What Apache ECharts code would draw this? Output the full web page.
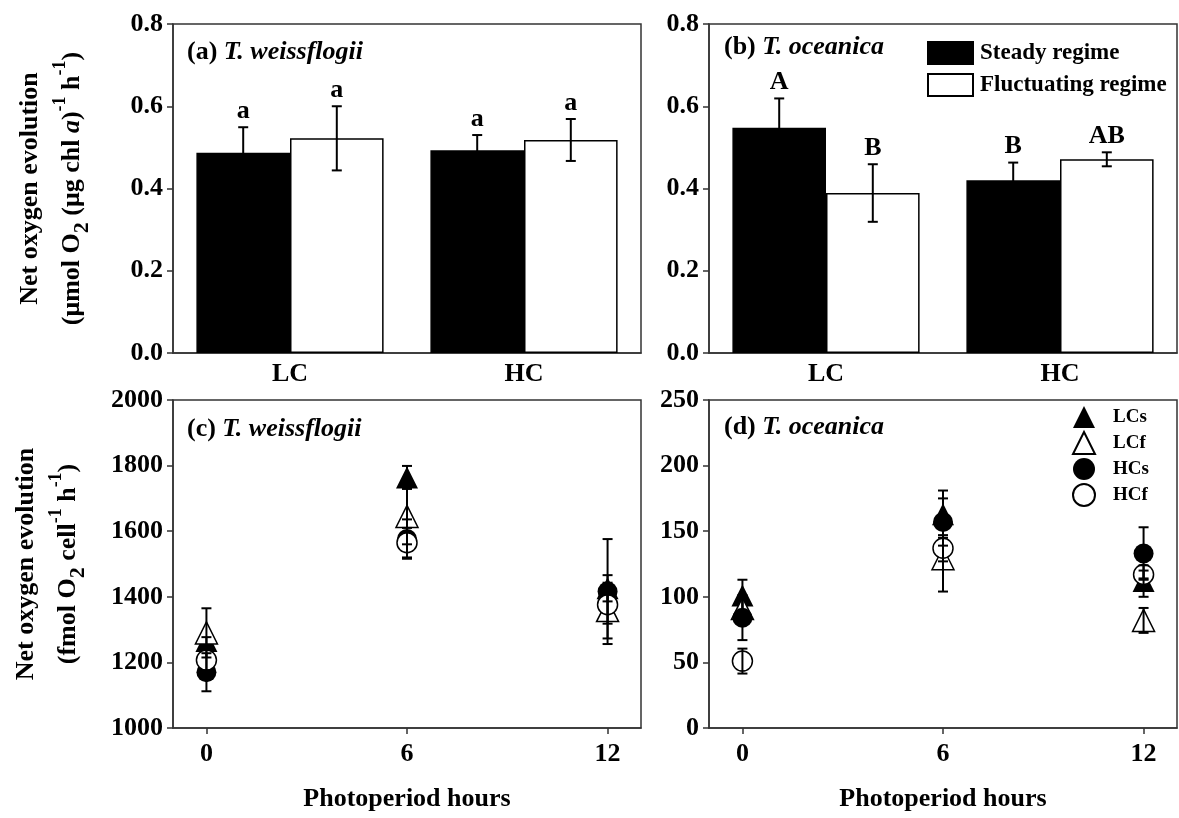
<!DOCTYPE html>
<html lang="en">
<head>
    <meta charset="UTF-8">
    <title>Net oxygen evolution</title>
    <script src="https://cdn.jsdelivr.net/npm/echarts@6/dist/echarts.min.js"></script>
    <style>
        html, body {margin: 0; padding: 0; background: #fff;}
        #main {width: 1179px; height: 818px;}
    </style>
</head>
<body>
    <div id="main"></div>
    <script>
    // bar panels (a) T. weissflogii, (b) T. oceanica
    var barCats = ['LC', 'HC'];
    var twSteady = [0.487, 0.493];
    var twSteadyErr = [0.062, 0.037];
    var twFluct = [0.522, 0.518];
    var twFluctErr = [0.078, 0.051];
    var twSteadyLetters = ['a', 'a'];
    var twFluctLetters = ['a', 'a'];

    var toSteady = [0.548, 0.420];
    var toSteadyErr = [0.071, 0.043];
    var toFluct = [0.389, 0.471];
    var toFluctErr = [0.070, 0.017];
    var toSteadyLetters = ['A', 'B'];
    var toFluctLetters = ['B', 'AB'];

    // point panels (c), (d)
    var hours = [0, 6, 12];
    var hourTicks = [0, 6, 12];
    var cLCs = [1265, 1764, 1426], cLCsErr = [12, 35, 40];
    var cLCf = [1290, 1645, 1358], cLCfErr = [75, 85, 85];
    var cHCs = [1170, 1576, 1416], cHCsErr = [58, 60, 160];
    var cHCf = [1207, 1565, 1376], cHCfErr = [45, 45, 58];

    var dLCs = [101, 163, 112], dLCsErr = [12, 18, 12];
    var dLCf = [91, 129, 82], dLCfErr = [10, 25, 9.5];
    var dHCs = [84, 157, 133], dHCsErr = [17, 18, 20];
    var dHCf = [51, 137, 117], dHCfErr = [9.5, 10, 3];

    var FONT = '"Liberation Serif", "Times New Roman", serif';
    var LINE = '#333';

    var myChart = echarts.init(document.getElementById('main'));

    function txt(size, italic) {
        return {fontFamily: FONT, fontWeight: 'bold', fontStyle: italic ? 'italic' : 'normal',
                fontSize: size, color: '#000'};
    }

    var nameRich = {
        t: {fontFamily: FONT, fontWeight: 'bold', fontSize: 26, lineHeight: 42, color: '#000'},
        it: {fontFamily: FONT, fontWeight: 'bold', fontStyle: 'italic', fontSize: 26, lineHeight: 42, color: '#000'},
        sub: {fontFamily: FONT, fontWeight: 'bold', fontSize: 22, lineHeight: 24, verticalAlign: 'bottom', color: '#000'},
        sup: {fontFamily: FONT, fontWeight: 'bold', fontSize: 18, lineHeight: 18, verticalAlign: 'top', color: '#000'}
    };

    var titleRich = {
        n: {fontFamily: FONT, fontWeight: 'bold', fontSize: 26, lineHeight: 30, color: '#000'},
        i: {fontFamily: FONT, fontWeight: 'bold', fontStyle: 'italic', fontSize: 26, lineHeight: 30, color: '#000'}
    };

    function barErr(gi, means, errs, letters, side) {
        return {
            type: 'custom',
            xAxisIndex: gi, yAxisIndex: gi,
            z: 5,
            data: means.map(function (m, i) { return [i, m, errs[i]]; }),
            renderItem: function (params, api) {
                var cat = api.value(0), m = api.value(1), e = api.value(2);
                var band = api.size([1, 0])[0];
                var x = api.coord([cat, m])[0] + side * band * 0.2;
                var yt = api.coord([cat, m + e])[1];
                var yb = api.coord([cat, m - e])[1];
                var st = {stroke: '#000', lineWidth: 2};
                return {type: 'group', children: [
                    {type: 'line', shape: {x1: x, y1: yt, x2: x, y2: yb}, style: st},
                    {type: 'line', shape: {x1: x - 5, y1: yt, x2: x + 5, y2: yt}, style: st},
                    {type: 'line', shape: {x1: x - 5, y1: yb, x2: x + 5, y2: yb}, style: st},
                    {type: 'text', x: x, y: yt - 3, style: {
                        text: letters[params.dataIndex], fill: '#000', fontFamily: FONT,
                        fontWeight: 'bold', fontSize: 26, align: 'center', verticalAlign: 'bottom'}}
                ]};
            }
        };
    }

    function ptErr(gi, means, errs) {
        return {
            type: 'custom',
            xAxisIndex: gi, yAxisIndex: gi,
            z: 5,
            data: hours.map(function (h, i) { return [h, means[i], errs[i]]; }),
            renderItem: function (params, api) {
                var h = api.value(0), m = api.value(1), e = api.value(2);
                var x = api.coord([h, m])[0];
                var yt = api.coord([h, m + e])[1];
                var yb = api.coord([h, m - e])[1];
                var st = {stroke: '#000', lineWidth: 2};
                return {type: 'group', children: [
                    {type: 'line', shape: {x1: x, y1: yt, x2: x, y2: yb}, style: st},
                    {type: 'line', shape: {x1: x - 5, y1: yt, x2: x + 5, y2: yt}, style: st},
                    {type: 'line', shape: {x1: x - 5, y1: yb, x2: x + 5, y2: yb}, style: st}
                ]};
            }
        };
    }

    function pts(gi, name, vals, symbol, filled) {
        return {
            type: 'scatter', name: name,
            xAxisIndex: gi, yAxisIndex: gi,
            symbol: symbol, symbolSize: symbol === 'triangle' ? 22 : 20,
            z: 3,
            itemStyle: filled ? {color: '#000', opacity: 1}
                              : {color: '#fff', borderColor: '#000', borderWidth: 1.5, opacity: 1},
            data: hours.map(function (h, i) { return [h, vals[i]]; })
        };
    }

    var steadyStyle = {color: '#000', borderColor: '#000', borderWidth: 1.5};
    var fluctStyle = {color: '#fff', borderColor: '#000', borderWidth: 1.5};

    function catAxis(gi) {
        return {
            type: 'category', gridIndex: gi, data: barCats,
            axisLine: {lineStyle: {color: LINE, width: 1.5}},
            axisTick: {show: false},
            axisLabel: Object.assign({margin: 8}, txt(26))
        };
    }
    function hourAxis(gi) {
        return {
            type: 'value', gridIndex: gi, min: -1, max: 13,
            name: 'Photoperiod hours', nameLocation: 'middle', nameGap: 58,
            nameTextStyle: txt(26),
            splitLine: {show: false},
            axisLine: {onZero: false, lineStyle: {color: LINE, width: 1.5}},
            axisTick: {customValues: hourTicks, length: 6, lineStyle: {color: LINE, width: 1.5}},
            axisLabel: Object.assign({customValues: hourTicks, margin: 13}, txt(26))
        };
    }
    function valAxis(gi, min, max, step, digits, name, gap) {
        return {
            type: 'value', gridIndex: gi, min: min, max: max, interval: step,
            name: name, nameLocation: 'middle', nameGap: gap,
            nameTextStyle: {rich: nameRich, align: 'center'},
            splitLine: {show: false},
            axisLine: {show: true, onZero: false, lineStyle: {color: LINE, width: 1.5}},
            axisTick: {show: true, length: 6, lineStyle: {color: LINE, width: 1.5}},
            axisLabel: Object.assign({margin: 10, formatter: function (v) { return v.toFixed(digits); }}, txt(26))
        };
    }

    var nameTop = '{t|Net oxygen evolution}\n{t|(μmol O}{sub|2}{t| (μg chl }{it|a}{t|)}{sup|-1}{t| h}{sup|-1}{t|)}';
    var nameBottom = '{t|Net oxygen evolution}\n{t|(fmol O}{sub|2}{t| cell}{sup|-1}{t| h}{sup|-1}{t|)}';

    var gridBox = {show: true, borderColor: LINE, borderWidth: 1.5, backgroundColor: 'transparent'};

    var option = {
        animation: false,
        backgroundColor: '#fff',
        title: [
            {text: '{n|(a) }{i|T. weissflogii}', left: 187, top: 37, padding: 0, textStyle: {rich: titleRich}},
            {text: '{n|(b) }{i|T. oceanica}', left: 724, top: 32, padding: 0, textStyle: {rich: titleRich}},
            {text: '{n|(c) }{i|T. weissflogii}', left: 187, top: 414, padding: 0, textStyle: {rich: titleRich}},
            {text: '{n|(d) }{i|T. oceanica}', left: 724, top: 412, padding: 0, textStyle: {rich: titleRich}}
        ],
        legend: [
            {
                data: ['Steady regime', 'Fluctuating regime'],
                orient: 'vertical', left: 927, top: 41, padding: 0,
                icon: 'rect', itemWidth: 45, itemHeight: 22, itemGap: 8,
                textStyle: Object.assign({padding: [0, 0, 0, 2]}, txt(23))
            },
            {
                data: ['LCs', 'LCf', 'HCs', 'HCf'],
                orient: 'vertical', left: 1072, top: 406, padding: 0,
                itemWidth: 22, itemHeight: 22, itemGap: 3,
                textStyle: Object.assign({padding: [0, 0, 0, 13]}, txt(19))
            }
        ],
        grid: [
            Object.assign({left: 173, top: 24, width: 468, height: 329}, gridBox),
            Object.assign({left: 709, top: 24, width: 468, height: 329}, gridBox),
            Object.assign({left: 173, top: 400, width: 468, height: 328}, gridBox),
            Object.assign({left: 709, top: 400, width: 468, height: 328}, gridBox)
        ],
        xAxis: [catAxis(0), catAxis(1), hourAxis(2), hourAxis(3)],
        yAxis: [
            valAxis(0, 0, 0.8, 0.2, 1, nameTop, 80),
            valAxis(1, 0, 0.8, 0.2, 1, '', 0),
            valAxis(2, 1000, 2000, 200, 0, nameBottom, 84),
            valAxis(3, 0, 250, 50, 0, '', 0)
        ],
        series: [
            {type: 'bar', name: 'Steady regime', xAxisIndex: 0, yAxisIndex: 0, data: twSteady,
             itemStyle: steadyStyle, barGap: '0%', barCategoryGap: '20%'},
            {type: 'bar', name: 'Fluctuating regime', xAxisIndex: 0, yAxisIndex: 0, data: twFluct,
             itemStyle: fluctStyle, barGap: '0%', barCategoryGap: '20%'},
            {type: 'bar', name: 'Steady regime', xAxisIndex: 1, yAxisIndex: 1, data: toSteady,
             itemStyle: steadyStyle, barGap: '0%', barCategoryGap: '20%'},
            {type: 'bar', name: 'Fluctuating regime', xAxisIndex: 1, yAxisIndex: 1, data: toFluct,
             itemStyle: fluctStyle, barGap: '0%', barCategoryGap: '20%'},
            barErr(0, twSteady, twSteadyErr, twSteadyLetters, -1),
            barErr(0, twFluct, twFluctErr, twFluctLetters, 1),
            barErr(1, toSteady, toSteadyErr, toSteadyLetters, -1),
            barErr(1, toFluct, toFluctErr, toFluctLetters, 1),

            pts(2, 'LCs', cLCs, 'triangle', true),
            pts(2, 'LCf', cLCf, 'triangle', false),
            pts(2, 'HCs', cHCs, 'circle', true),
            pts(2, 'HCf', cHCf, 'circle', false),
            ptErr(2, cLCs, cLCsErr), ptErr(2, cLCf, cLCfErr), ptErr(2, cHCs, cHCsErr), ptErr(2, cHCf, cHCfErr),

            pts(3, 'LCs', dLCs, 'triangle', true),
            pts(3, 'LCf', dLCf, 'triangle', false),
            pts(3, 'HCs', dHCs, 'circle', true),
            pts(3, 'HCf', dHCf, 'circle', false),
            ptErr(3, dLCs, dLCsErr), ptErr(3, dLCf, dLCfErr), ptErr(3, dHCs, dHCsErr), ptErr(3, dHCf, dHCfErr)
        ]
    };
    myChart.setOption(option);
    </script>
</body>
</html>
